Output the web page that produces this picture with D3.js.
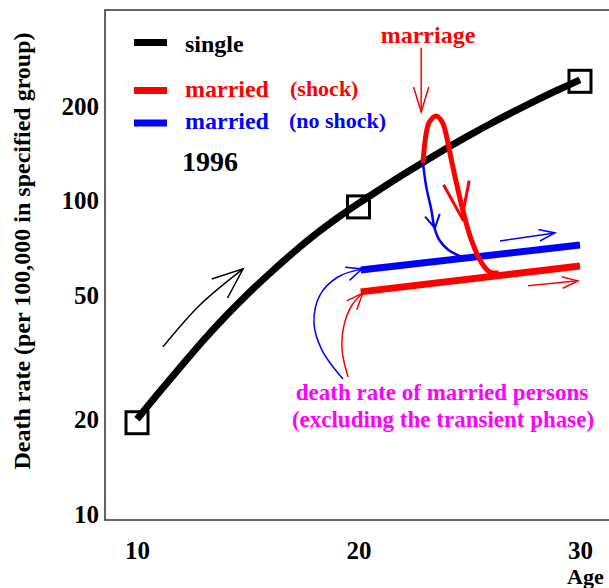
<!DOCTYPE html>
<html>
<head>
<meta charset="utf-8">
<script src="https://cdn.jsdelivr.net/npm/d3@7"></script>
<style>
  html, body { margin: 0; padding: 0; background: #fff; }
  svg { display: block; }
  text { font-family: "Liberation Serif", "Times New Roman", serif; font-weight: bold; }
</style>
</head>
<body>
<svg id="chart" width="609" height="588"></svg>
<script>
// ---------------- data ----------------
const xTicks = [10, 20, 30];
const yTicks = [10, 20, 50, 100, 200];

const singleAges  = [10, 11, 12, 13, 14, 15, 16, 17, 18, 19, 20, 21, 22, 23, 24, 25, 26, 27, 28, 29, 30];
const singleRates = [20.1, 24.5, 29.7, 35.9, 42.8, 50.4, 58.7, 67.8, 77.5, 87.6, 98,
                     109, 120.9, 133.6, 147.2, 161.4, 176.4, 192, 208.4, 225.2, 242.6];

const squareAges  = [10, 20, 30];
const squareRates = [19.6, 95.5, 240];

const marriedAges    = [20.1, 30];
const marriedShock   = [51.2, 61.9];
const marriedNoShock = [60.1, 72.2];

const shockAges  = [22.91, 23.06, 23.2, 23.51, 23.78, 23.96, 24.1, 24.42, 24.74, 25.1, 25.56, 25.92, 26.33];
const shockRates = [131.9, 164.4, 178, 186.2, 178, 162, 145, 113.9, 91.4, 74.9, 63.3, 59.3, 58.8];

const noShockAges  = [22.91, 23.06, 23.29, 23.42, 23.65, 24.06, 24.65];
const noShockRates = [131.9, 110.6, 93.4, 82.5, 74.9, 69.6, 66.2];

// annotation arrows, in data units [age, rate]
const arrowSingle   = [[11.17, 34.2], [12.84, 46.5], [14.79, 60.6]];
const arrowMarriage = [[22.83, 306.8], [22.83, 191.8]];
const arcNoShock    = [[19.30, 27.0], [18.35, 33.4], [17.99, 40.7], [18.26, 50.0], [19.07, 57.1], [20.16, 60.6]];
const arcShock      = [[19.53, 27.4], [19.26, 33.4], [19.35, 40.2], [19.71, 46.5], [20.2, 50.8]];
const arrowNoShockR = [[26.39, 74.4], [28.87, 78.9]];
const arrowShockR   = [[27.65, 53.5], [29.91, 55.5]];
const headShock     = [[24.42, 113.9], [24.67, 88.1]];
const headNoShock   = [[23.29, 93.4], [23.45, 81.8]];

// ---------------- layout ----------------
const svg = d3.select("#chart");
const L = 105, R = 609, T = 10, B = 520;

const x = d3.scaleLinear().domain([8.555, 31.31]).range([L, R]);
const y = d3.scaleLog().domain([9.6, 405]).range([B, T]);

const RED = "#ff0000", BLUE = "#0000ff", MAG = "#ff00ff";

// frame
svg.append("rect").attr("x", L).attr("y", T).attr("width", R - L + 10).attr("height", B - T)
  .attr("fill", "none").attr("stroke", "#333").attr("stroke-width", 1.5);

// axes
const yAxis = d3.axisLeft(y).tickValues(yTicks).tickFormat(d3.format("d")).tickSize(0).tickPadding(6);
const gy = svg.append("g").attr("transform", `translate(${L},0)`).call(yAxis);
gy.select(".domain").remove();
gy.selectAll("text").attr("font-size", 25).attr("fill", "#000")
  .style("font-family", '"Liberation Serif", serif').style("font-weight", "bold");

const xAxis = d3.axisBottom(x).tickValues(xTicks).tickFormat(d3.format("d")).tickSize(0).tickPadding(21);
const gx = svg.append("g").attr("transform", `translate(0,${B})`).call(xAxis);
gx.select(".domain").remove();
gx.selectAll("text").attr("font-size", 25).attr("fill", "#000")
  .style("font-family", '"Liberation Serif", serif').style("font-weight", "bold");

svg.append("text").attr("x", 567).attr("y", 584).attr("font-size", 22).text("Age");

svg.append("text")
  .attr("transform", "translate(30,251) rotate(-90)")
  .attr("text-anchor", "middle").attr("font-size", 24)
  .text("Death rate (per 100,000 in specified group)");

// ---------------- helpers ----------------
const lineOf = (curve) => d3.line().x(d => x(d[0])).y(d => y(d[1])).curve(curve);
const zip = (a, b) => a.map((v, i) => [v, b[i]]);

function arrowHead(pts, len, ang, color, w) {
  const p1 = pts[pts.length - 1], p0 = pts[pts.length - 2];
  const tx = x(p1[0]), ty = y(p1[1]);
  let dx = tx - x(p0[0]), dy = ty - y(p0[1]);
  const n = Math.hypot(dx, dy); dx /= n; dy /= n;
  const a = ang * Math.PI / 180;
  const arms = [a, -a].map(t => {
    const rx = dx * Math.cos(t) - dy * Math.sin(t);
    const ry = dx * Math.sin(t) + dy * Math.cos(t);
    return [tx - len * rx, ty - len * ry];
  });
  svg.append("path")
    .attr("d", `M${arms[0][0]},${arms[0][1]}L${tx},${ty}L${arms[1][0]},${arms[1][1]}`)
    .attr("fill", "none").attr("stroke", color).attr("stroke-width", w)
    .attr("stroke-linejoin", "miter");
}

function arrow(pts, color, w, len, ang, curve) {
  svg.append("path").attr("d", lineOf(curve || d3.curveCatmullRom)(pts))
    .attr("fill", "none").attr("stroke", color).attr("stroke-width", w);
  arrowHead(pts, len, ang, color, w);
}

// ---------------- marks ----------------
// single curve
svg.append("path").attr("d", lineOf(d3.curveCatmullRom)(zip(singleAges, singleRates)))
  .attr("fill", "none").attr("stroke", "#000").attr("stroke-width", 7);

// squares
svg.selectAll("rect.sq").data(zip(squareAges, squareRates)).enter().append("rect")
  .attr("class", "sq")
  .attr("x", d => x(d[0]) - 11).attr("y", d => y(d[1]) - 11)
  .attr("width", 22).attr("height", 22)
  .attr("fill", "none").attr("stroke", "#000").attr("stroke-width", 3);

// married lines
svg.append("path").attr("d", lineOf(d3.curveLinear)(zip(marriedAges, marriedNoShock)))
  .attr("fill", "none").attr("stroke", BLUE).attr("stroke-width", 7);
svg.append("path").attr("d", lineOf(d3.curveLinear)(zip(marriedAges, marriedShock)))
  .attr("fill", "none").attr("stroke", RED).attr("stroke-width", 7);

// transients
svg.append("path").attr("d", lineOf(d3.curveCatmullRom)(zip(noShockAges, noShockRates)))
  .attr("fill", "none").attr("stroke", BLUE).attr("stroke-width", 2.5);
svg.append("path").attr("d", lineOf(d3.curveCatmullRom)(zip(shockAges, shockRates)))
  .attr("fill", "none").attr("stroke", RED).attr("stroke-width", 5);

arrowHead(headShock, 38, 20, RED, 3);
arrowHead(headNoShock, 15, 30, BLUE, 2);

// annotation arrows
arrow(arrowSingle, "#000", 1.5, 33, 22);
arrow(arrowMarriage, RED, 1.5, 26, 17, d3.curveLinear);
arrow(arcNoShock, BLUE, 1.5, 17, 24);
arrow(arcShock, RED, 1.5, 18, 22);
arrow(arrowNoShockR, BLUE, 1.5, 17, 20, d3.curveLinear);
arrow(arrowShockR, RED, 1.5, 17, 20, d3.curveLinear);

// ---------------- legend & labels ----------------
const legend = [
  { y: 42.5, color: "#000" },
  { y: 90.5, color: RED },
  { y: 123, color: BLUE }
];
legend.forEach(d => {
  svg.append("line").attr("x1", 134).attr("x2", 167).attr("y1", d.y).attr("y2", d.y)
    .attr("stroke", d.color).attr("stroke-width", 7);
});
svg.append("text").attr("x", 185).attr("y", 52).attr("font-size", 24).attr("fill", "#000").text("single");
svg.append("text").attr("x", 185).attr("y", 97).attr("font-size", 24).attr("fill", RED).text("married");
svg.append("text").attr("x", 290).attr("y", 96).attr("font-size", 22).attr("fill", RED).text("(shock)");
svg.append("text").attr("x", 185).attr("y", 129).attr("font-size", 24).attr("fill", BLUE).text("married");
svg.append("text").attr("x", 289).attr("y", 128).attr("font-size", 22).attr("fill", BLUE).text("(no shock)");
svg.append("text").attr("x", 182).attr("y", 171).attr("font-size", 28).attr("fill", "#000").text("1996");

svg.append("text").attr("x", 428).attr("y", 43).attr("text-anchor", "middle")
  .attr("font-size", 24).attr("fill", RED).text("marriage");

svg.append("text").attr("x", 442).attr("y", 400).attr("text-anchor", "middle")
  .attr("font-size", 23).attr("fill", MAG).text("death rate of married persons");
svg.append("text").attr("x", 443).attr("y", 427).attr("text-anchor", "middle")
  .attr("font-size", 23).attr("fill", MAG).text("(excluding the transient phase)");
</script>
</body>
</html>
